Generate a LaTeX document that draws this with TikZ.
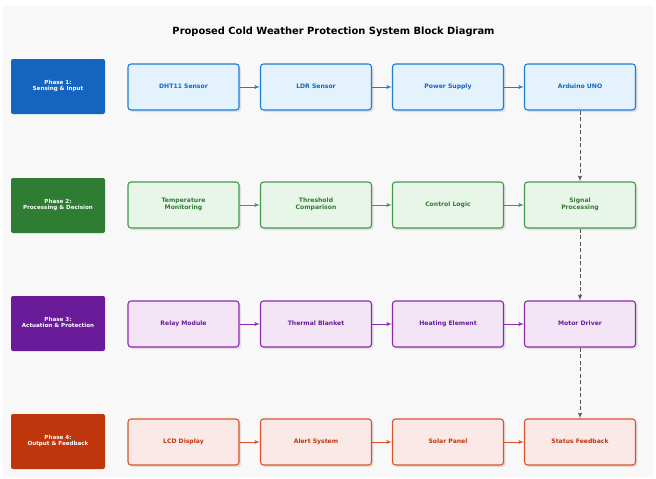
\documentclass[tikz,border=0pt]{standalone}
\usepackage{fontspec}
\setmainfont{DejaVu Sans}
\usetikzlibrary{arrows,shadows,positioning}

\definecolor{bgray}{HTML}{F8F8F8}
\definecolor{bluedk}{HTML}{1565C0}
\definecolor{bluelt}{HTML}{E3F2FD}
\definecolor{bluemd}{HTML}{1E7BD6}
\definecolor{greendk}{HTML}{2E7D32}
\definecolor{greenlt}{HTML}{E8F5E9}
\definecolor{greenmd}{HTML}{439A48}
\definecolor{purpledk}{HTML}{6A1B9A}
\definecolor{purplelt}{HTML}{F3E5F5}
\definecolor{purplemd}{HTML}{8E2AAE}
\definecolor{orangedk}{HTML}{BF360C}
\definecolor{orangelt}{HTML}{FBE9E7}
\definecolor{orangemd}{HTML}{D9532A}
\definecolor{dashgray}{HTML}{555555}

\begin{document}
\begin{tikzpicture}[x=1pt,y=-1pt,>=latex']
      \tikzset{
	  phase/.style={rectangle, rounded corners=2pt, minimum width=94pt, minimum height=55pt, inner sep=0pt, text=white, font=\bfseries\fontsize{5.6}{6.4}\selectfont, align=center, execute at begin node=\strut, execute at end node=\strut},
	  comp/.style={rectangle, rounded corners=3pt, minimum width=111pt, minimum height=46pt, inner sep=0pt, line width=1.1pt, font=\bfseries\fontsize{6.1}{7}\selectfont, align=center, execute at begin node=\strut, execute at end node=\strut, drop shadow={shadow xshift=2pt, shadow yshift=-2pt, fill=black!12, opacity=1}},
	  bluebox/.style={comp, draw=bluemd, fill=bluelt, text=bluedk},
	  greenbox/.style={comp, draw=greenmd, fill=greenlt, text=greendk},
	  purplebox/.style={comp, draw=purplemd, fill=purplelt, text=purpledk},
	  orangebox/.style={comp, draw=orangemd, fill=orangelt, text=orangedk},
	  flow/.style={->, line width=0.9pt},
	  link/.style={->, line width=1pt, dashgray, dash pattern=on 4pt off 2.5pt}
      }
      \useasboundingbox (0,0) rectangle (656,479);
      \fill[bgray] (3,6) rectangle (653,477);

      \node (title) at (333.5,32) {\bfseries\fontsize{9.9}{11}\selectfont Proposed Cold Weather Protection System Block Diagram};

      %----- phase labels
      \node (ph1) at (58,86.5) [phase, fill=bluedk] {Phase 1:\\Sensing \& Input};
      \node (ph2) at (58,205.5) [phase, fill=greendk] {Phase 2:\\Processing \& Decision};
      \node (ph3) at (58,323.5) [phase, fill=purpledk] {Phase 3:\\Actuation \& Protection};
      \node (ph4) at (58,441.5) [phase, fill=orangedk] {Phase 4:\\Output \& Feedback};

      %----- row 1
      \node (dht) at (183.5,87) [bluebox] {DHT11 Sensor};
      \node (ldr) at (316,87) [bluebox] {LDR Sensor};
      \node (psu) at (448,87) [bluebox] {Power Supply};
      \node (uno) at (580,87) [bluebox] {Arduino UNO};

      %----- row 2
      \node (tmon) at (183.5,205) [greenbox] {Temperature\\Monitoring};
      \node (thr) at (316,205) [greenbox] {Threshold\\Comparison};
      \node (ctl) at (448,205) [greenbox] {Control Logic};
      \node (sig) at (580,205) [greenbox] {Signal\\Processing};

      %----- row 3
      \node (rly) at (183.5,324) [purplebox] {Relay Module};
      \node (blk) at (316,324) [purplebox] {Thermal Blanket};
      \node (heat) at (448,324) [purplebox] {Heating Element};
      \node (mot) at (580,324) [purplebox] {Motor Driver};

      %----- row 4
      \node (lcd) at (183.5,442) [orangebox] {LCD Display};
      \node (alrt) at (316,442) [orangebox] {Alert System};
      \node (sol) at (448,442) [orangebox] {Solar Panel};
      \node (stat) at (580,442) [orangebox] {Status Feedback};

      \draw [flow, bluemd] (dht) -- (ldr);
      \draw [flow, bluemd] (ldr) -- (psu);
      \draw [flow, bluemd] (psu) -- (uno);
      \draw [flow, greenmd] (tmon) -- (thr);
      \draw [flow, greenmd] (thr) -- (ctl);
      \draw [flow, greenmd] (ctl) -- (sig);
      \draw [flow, purplemd] (rly) -- (blk);
      \draw [flow, purplemd] (blk) -- (heat);
      \draw [flow, purplemd] (heat) -- (mot);
      \draw [flow, orangemd] (lcd) -- (alrt);
      \draw [flow, orangemd] (alrt) -- (sol);
      \draw [flow, orangemd] (sol) -- (stat);

      \draw [link] (uno) -- (sig);
      \draw [link] (sig) -- (mot);
      \draw [link] (mot) -- (stat);
    \end{tikzpicture}
\end{document}
